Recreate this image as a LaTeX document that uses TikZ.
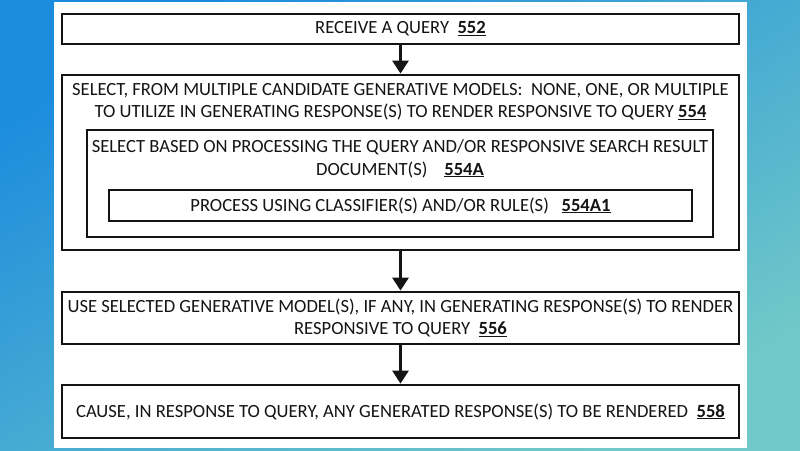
\documentclass[tikz,border=0pt]{standalone}
\usepackage{fontspec}
\setmainfont{Carlito}
\usetikzlibrary{arrows.meta}
\definecolor{bgblue}{RGB}{28,140,221}
\definecolor{bgteal}{RGB}{112,200,200}
\definecolor{ink}{RGB}{20,20,20}
\newcommand{\refnum}[1]{\underline{\textbf{#1}}}
\tikzset{
  stepbox/.style={draw=ink, line width=2.8pt, rectangle, minimum width=677pt, inner sep=0pt},
  innerbox/.style={draw=ink, line width=2.8pt, rectangle, inner sep=0pt},
  boxtext/.style={text=ink, align=center, font=\fontsize{18.6}{21.5}\selectfont},
  flow/.style={draw=ink, line width=2.8pt, -{Triangle[width=16pt,length=13pt]}}
}
\begin{document}
\begin{tikzpicture}[x=1pt, y=-1pt]
  % background and panel
  \shade[top color=bgblue, bottom color=bgteal, shading angle=30] (0,0) rectangle (800,450);
  \fill[white] (54,2) rectangle (747,448);
  \useasboundingbox (0,0) rectangle (800,450);

  % step 552
  \node[stepbox, minimum height=30pt] (query) at (400.5,29) {};
  \node[boxtext] (querytxt) at (400.5,29) {RECEIVE A QUERY\ \ \refnum{552}};

  % step 554 with nested boxes
  \node[stepbox, minimum height=175pt] (select) at (400.5,162.5) {};
  \node[boxtext] (selecttxt) at (400.5,102) {SELECT, FROM MULTIPLE CANDIDATE GENERATIVE MODELS:\ \ NONE, ONE, OR MULTIPLE\\
    TO UTILIZE IN GENERATING RESPONSE(S) TO RENDER RESPONSIVE TO QUERY \refnum{554}};
  \node[innerbox, minimum width=626pt, minimum height=107pt] (basis) at (400,183.5) {};
  \node[boxtext, font=\fontsize{18.6}{23}\selectfont] (basistxt) at (400,158.5) {SELECT BASED ON PROCESSING THE QUERY AND/OR RESPONSIVE SEARCH RESULT\\
    DOCUMENT(S)\ \ \ \ \refnum{554A}};
  \node[innerbox, minimum width=583pt, minimum height=31pt] (classify) at (400.5,205.5) {};
  \node[boxtext] (classifytxt) at (400.5,205.5) {PROCESS USING CLASSIFIER(S) AND/OR RULE(S)\ \ \ \refnum{554A1}};

  % step 556
  \node[stepbox, minimum height=52pt] (use) at (400.5,318) {};
  \node[boxtext] (usetxt) at (400.5,318) {USE SELECTED GENERATIVE MODEL(S), IF ANY, IN GENERATING RESPONSE(S) TO RENDER\\
    RESPONSIVE TO QUERY\ \ \refnum{556}};

  % step 558
  \node[stepbox, minimum height=53pt] (render) at (400.5,411.5) {};
  \node[boxtext] (rendertxt) at (400.5,411.5) {CAUSE, IN RESPONSE TO QUERY, ANY GENERATED RESPONSE(S) TO BE RENDERED\ \ \refnum{558}};

  % arrows
  \draw[flow] (query.south) -- (select.north);
  \draw[flow] (select.south) -- (use.north);
  \draw[flow] (use.south) -- (render.north);
\end{tikzpicture}
\end{document}
